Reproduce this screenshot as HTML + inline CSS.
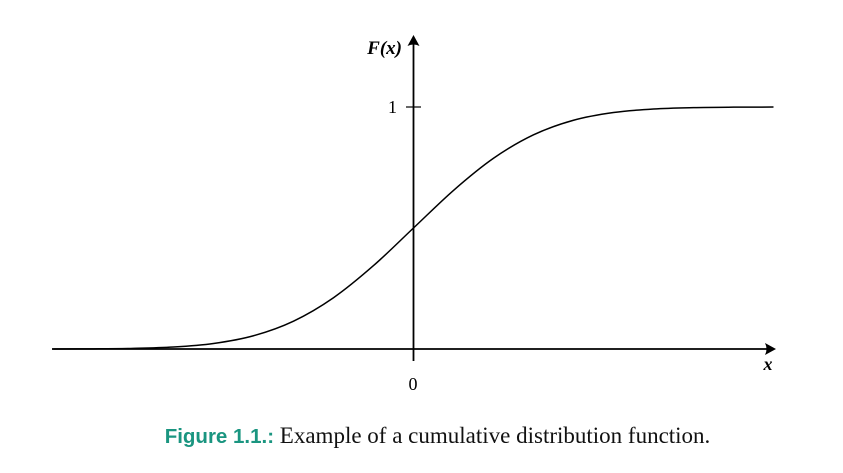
<!DOCTYPE html>
<html><head><meta charset="utf-8"><style>
html,body{margin:0;padding:0;background:#fff;}
body{width:843px;height:473px;overflow:hidden;position:relative;font-family:"Liberation Serif",serif;}
#cap{position:absolute;left:16px;width:843px;top:423px;text-align:center;font-size:23px;color:#111;white-space:nowrap;}
#cap b{font-family:"Liberation Sans",sans-serif;color:#1a9580;font-weight:bold;font-size:20.5px;}
</style></head><body>
<svg id="chart" width="843" height="473" style="position:absolute;left:0;top:0">
<g id="axes"></g><g id="curve"></g></svg>
<div id="cap"><b>Figure 1.1.:</b> Example of a cumulative distribution function.</div>
<script>
const xs=[-3.6,-3.2,-2.8,-2.4,-2.0,-1.6,-1.2,-0.8,-0.4,0,0.4,0.8,1.2,1.6,2.0,2.4,2.8,3.2,3.6];
const Fvals=[0.0002,0.0007,0.0026,0.0082,0.0228,0.0548,0.1151,0.2119,0.3446,0.5,0.6554,0.7881,0.8849,0.9452,0.9772,0.9918,0.9974,0.9993,0.9998];
const yTicks=[1];
const ns="http://www.w3.org/2000/svg";
const x0=413.5,px=100,yBase=349,yTop=107;
const sx=v=>x0+v*px, sy=v=>yBase-(yBase-yTop)*v;
function mk(t,a,p){const e=document.createElementNS(ns,t);for(const k in a)e.setAttribute(k,a[k]);p.appendChild(e);return e;}
const ax=document.getElementById('axes');
let e=mk('line',{x1:52,y1:yBase,x2:772,y2:yBase,stroke:'#000','stroke-width':1.8},ax);

e=mk('line',{x1:x0,y1:yBase+12,x2:x0,y2:40,stroke:'#000','stroke-width':1.8},ax);

e=mk('path',{d:'M776,349 L765,343 Q768,349 765,355 Z',fill:'#000'},ax);

e=mk('path',{d:'M413.5,35 L407.5,46 Q413.5,43 419.5,46 Z',fill:'#000'},ax);

yTicks.forEach(v=>{
 const t=mk('line',{x1:406,y1:sy(v),x2:421,y2:sy(v),stroke:'#000','stroke-width':1.2},ax);
 
 const l=mk('text',{x:397,y:sy(v)+6,'font-size':18,'text-anchor':'end','font-family':'Liberation Serif, serif'},ax);
 l.textContent=String(v);
 
});
let t=mk('text',{x:413,y:390,'font-size':18,'text-anchor':'middle','font-family':'Liberation Serif, serif'},ax);t.textContent='0';

t=mk('text',{x:768,y:370,'font-size':18,'font-weight':'bold','font-style':'italic','text-anchor':'middle','font-family':'Liberation Serif, serif'},ax);t.textContent='x';

t=mk('text',{x:402,y:54,'font-size':19,'font-weight':'bold','font-style':'italic','text-anchor':'end','font-family':'Liberation Serif, serif'},ax);t.textContent='F(x)';

const P=xs.map((v,i)=>[sx(v),sy(Fvals[i])]);
let d='M'+P[0][0]+','+P[0][1];
for(let i=0;i<P.length-1;i++){const p0=P[Math.max(0,i-1)],p1=P[i],p2=P[i+1],p3=P[Math.min(P.length-1,i+2)];
 d+=` C${p1[0]+(p2[0]-p0[0])/6},${p1[1]+(p2[1]-p0[1])/6} ${p2[0]-(p3[0]-p1[0])/6},${p2[1]-(p3[1]-p1[1])/6} ${p2[0]},${p2[1]}`;}
const c=mk('path',{d:d,fill:'none',stroke:'#000','stroke-width':1.5},document.getElementById('curve'));

</script></body></html>
